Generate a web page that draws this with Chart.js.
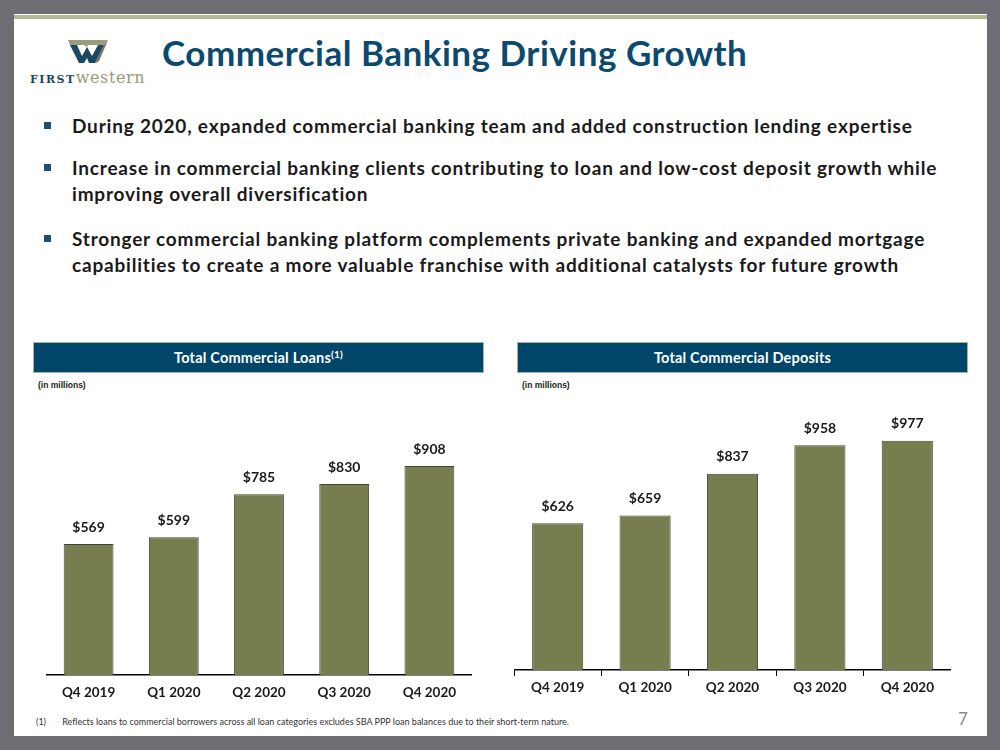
<!DOCTYPE html>
<html>
<head>
<meta charset="utf-8">
<script src="https://cdn.jsdelivr.net/npm/chart.js@4/dist/chart.umd.min.js"></script>
<style>
html,body{margin:0;padding:0;}
body{width:1000px;height:750px;position:relative;background:#6e6d73;overflow:hidden;font-family:Lato,"Open Sans",sans-serif;font-variant-ligatures:none;}
#panel{position:absolute;left:14px;top:14px;width:973px;height:722px;background:#fff;}
#olive{position:absolute;left:14px;top:15px;width:973px;height:4px;background:#b3b78f;}
.abs{position:absolute;}
#title{left:162px;top:31px;font-size:35px;letter-spacing:0.5px;font-weight:700;color:#0b4a6e;white-space:nowrap;}
.bullet{position:absolute;left:44px;width:7px;height:7px;background:#1f4f70;}
.btxt{position:absolute;left:72px;font-size:19px;letter-spacing:0.8px;font-weight:700;color:#1a1a1a;line-height:26px;white-space:nowrap;}
.hdr{position:absolute;top:342px;height:29px;width:449px;background:#00466a;border:1px solid #9fb3a0;color:#fff;font-weight:700;font-size:14.5px;letter-spacing:0.2px;text-align:center;line-height:29px;}
.hdr sup{font-size:10px;vertical-align:5px;line-height:0;}
.inm{position:absolute;top:380px;font-family:"Liberation Sans",Arial,sans-serif;font-weight:700;font-size:8.5px;color:#222;}
#foot{left:36px;top:716px;font-size:9px;color:#333;white-space:nowrap;}
#pg{left:958px;top:708px;font-size:17px;color:#8a8a8a;}
canvas{position:absolute;}
</style>
</head>
<body>
<div id="panel"></div>
<div id="olive"></div>
<svg class="abs" style="left:60px;top:34px" width="56" height="34" viewBox="0 0 56 34">
  <polygon points="44,11 48,6 39,27 36,29 35,29" fill="#6f7462"/>
  <polygon points="10,11 17,11 22,22 27,13 32,22 38,11 44,11 35,29 29,29 27,24 24,29 19,29" fill="#1d4861"/>
  <polygon points="8,6 48,6 44,11 28,11 27,13 24,11 10,11" fill="#9a9c7c"/>
</svg>
<div class="abs" style="left:30px;top:68px;white-space:nowrap;font-family:'DejaVu Serif','Liberation Serif',serif;">
  <span style="font-size:11px;letter-spacing:1.5px;color:#1d4861;font-weight:700;">FIRST</span><span style="font-size:16px;letter-spacing:0.6px;color:#9a9a78;">western</span>
</div>
<div id="title" class="abs">Commercial Banking Driving Growth</div>

<div class="bullet" style="top:122px"></div>
<div class="btxt" style="top:113px">During 2020, expanded commercial banking team and added construction lending expertise</div>
<div class="bullet" style="top:164px"></div>
<div class="btxt" style="top:155px">Increase in commercial banking clients contributing to loan and low-cost deposit growth while<br>improving overall diversification</div>
<div class="bullet" style="top:235px"></div>
<div class="btxt" style="top:226px">Stronger commercial banking platform complements private banking and expanded mortgage<br>capabilities to create a more valuable franchise with additional catalysts for future growth</div>

<div class="hdr" style="left:33px">Total Commercial Loans<sup>(1)</sup></div>
<div class="hdr" style="left:517px">Total Commercial Deposits</div>
<div class="inm" style="left:38px">(in millions)</div>
<div class="inm" style="left:522px">(in millions)</div>

<canvas id="c1" style="left:46px;top:400px;width:426px;height:310px" width="426" height="310"></canvas>
<canvas id="c2" style="left:514px;top:400px;width:437px;height:305px" width="437" height="305"></canvas>

<div id="foot" class="abs">(1)&nbsp;&nbsp;&nbsp;&nbsp;&nbsp;&nbsp;&nbsp;Reflects loans to commercial borrowers across all loan categories excludes SBA PPP loan balances due to their short-term nature.</div>
<div id="pg" class="abs">7</div>

<script>
const quarters = ["Q4 2019", "Q1 2020", "Q2 2020", "Q3 2020", "Q4 2020"];
const loans = [569, 599, 785, 830, 908];
const deposits = [626, 659, 837, 958, 977];

const barColor = "#777d4f";
const barBorder = "#3c473c";
const textColor = "#1a1a1a";
const font = "Lato, 'Open Sans', sans-serif";

const valueLabels = {
  id: "valueLabels",
  afterDatasetsDraw(chart) {
    const ctx = chart.ctx;
    const meta = chart.getDatasetMeta(0);
    ctx.save();
    ctx.font = "700 14px " + font;
    ctx.fillStyle = textColor;
    ctx.textAlign = "center";
    ctx.textBaseline = "middle";
    meta.data.forEach((bar, i) => {
      ctx.fillText("$" + chart.data.datasets[0].data[i], bar.x, bar.y - 17);
    });
    ctx.restore();
  }
};

function makeChart(id, values, yMax, ticks, tickPad) {
  return new Chart(document.getElementById(id), {
    type: "bar",
    data: {
      labels: quarters,
      datasets: [{
        data: values,
        backgroundColor: barColor,
        borderColor: barBorder,
        borderWidth: 1,
        categoryPercentage: 1,
        barPercentage: 0.585
      }]
    },
    options: {
      responsive: false,
      animation: false,
      events: [],
      layout: { padding: 0 },
      plugins: { legend: { display: false }, tooltip: { enabled: false } },
      scales: {
        y: { display: false, min: 0, max: yMax },
        x: {
          afterFit(scale) { scale.height = 35; },
          grid: { display: ticks, drawOnChartArea: false, drawTicks: ticks, tickLength: 6, color: "#000", lineWidth: 1 },
          border: { display: true, color: "#000", width: 1.5 },
          ticks: { color: textColor, padding: tickPad, maxRotation: 0, autoSkip: false, font: { family: font, weight: "700", size: 13.5 } }
        }
      }
    },
    plugins: [valueLabels]
  });
}

makeChart("c1", loans, 1195, false, 10);
makeChart("c2", deposits, 1151, true, 4);
</script>
</body>
</html>
